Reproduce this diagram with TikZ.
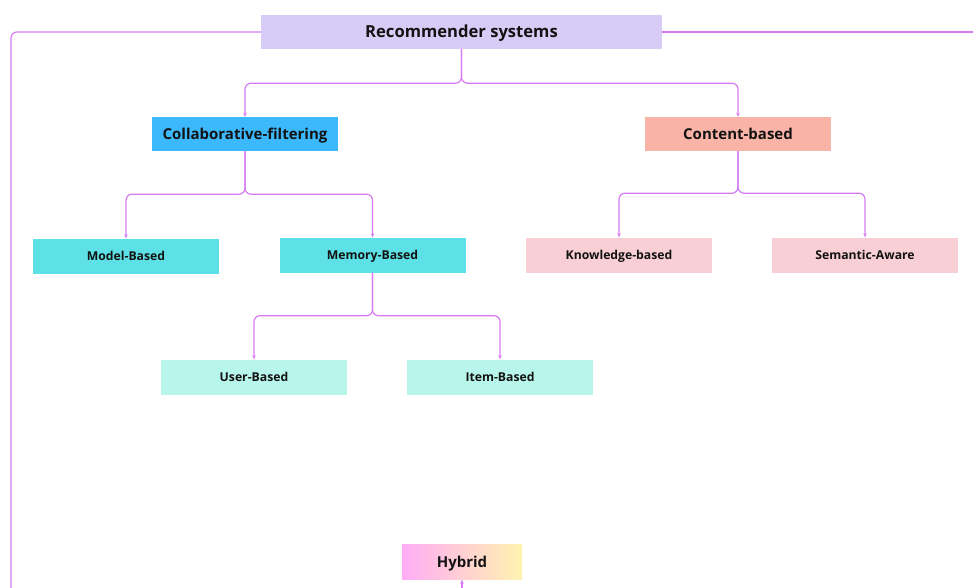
\documentclass[tikz,border=0pt]{standalone}
\usepackage{fontspec}
\setmainfont{Open Sans}
\usetikzlibrary{arrows.meta,positioning}

\definecolor{linkpurple}{HTML}{D77BF2}
\definecolor{rootfill}{HTML}{D6CCF5}
\definecolor{cffill}{HTML}{3CB9FD}
\definecolor{cbfill}{HTML}{F9B4A7}
\definecolor{memfill}{HTML}{5DE1E6}
\definecolor{knowfill}{HTML}{F8CFD4}
\definecolor{userfill}{HTML}{B8F6EB}
\definecolor{hybpink}{HTML}{FFADF6}
\definecolor{hybyellow}{HTML}{FFF3B0}

\begin{document}
\begin{tikzpicture}[x=1pt,y=-1pt,
    box/.style={minimum width=186pt,minimum height=35pt,inner sep=0pt,text=black!93,
      text height=8.7pt,text depth=0pt,
      font=\bfseries\fontsize{12.2}{14}\selectfont},
    bigbox/.style={box,text height=10.7pt,font=\bfseries\fontsize{15}{17}\selectfont},
    conn/.style={draw=linkpurple,line width=1.2pt,rounded corners=6pt},
    arr/.style={conn,-{Stealth[length=4pt,width=3.5pt]}}]
    \useasboundingbox (0,0) rectangle (973,588);

    % Root of the taxonomy
    \node[bigbox,fill=rootfill,minimum width=401pt,minimum height=34pt,text height=11.9pt,
      font=\bfseries\fontsize{16.6}{19}\selectfont] (root) at (461.5,32) {Recommender systems};

    % Main families
    \node[bigbox,fill=cffill,minimum height=34pt] (cf) at (245,134) {Collaborative-filtering};
    \node[bigbox,fill=cbfill,minimum height=34pt] (cb) at (738,134) {Content-based};

    % Sub families
    \node[box,fill=memfill] (model) at (126,256) {Model-Based};
    \node[box,fill=memfill] (memory) at (372.5,255) {Memory-Based};
    \node[box,fill=knowfill] (know) at (619,255) {Knowledge-based};
    \node[box,fill=knowfill] (sem) at (865,255) {Semantic-Aware};
    \node[box,fill=userfill] (user) at (254,377) {User-Based};
    \node[box,fill=userfill] (item) at (500,377) {Item-Based};

    % Hybrid, fed from below
    \node[bigbox,left color=hybpink,right color=hybyellow,minimum width=120pt] (hybrid) at (462,562) {Hybrid};

    % Tree connectors (parent/child/drop to the split)
    \foreach \p/\c/\d in {root/cf/34,root/cb/34,cf/model/43,cf/memory/43,cb/know/42,cb/sem/42,memory/user/43,memory/item/43}
      \draw[arr] (\p.south) -- ++(0,\d) -| (\c.north);

    % Side lines leaving the root
    \coordinate (leftend) at (11,600);
    \coordinate (rightend) at (990,32);
    \coordinate (hybin) at (462,600);
    \draw[conn] (root.west) -| (leftend);
    \draw[conn] (root.east) -- (rightend);
    \draw[arr] (hybin) -- (hybrid.south);
\end{tikzpicture}
\end{document}
